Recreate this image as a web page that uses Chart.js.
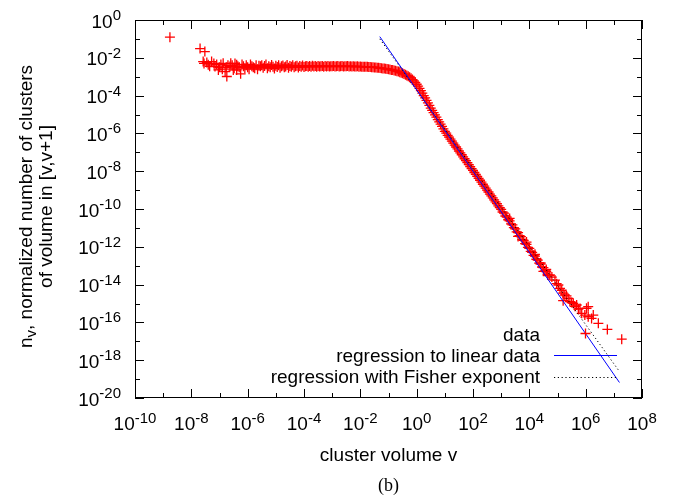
<!DOCTYPE html>
<html>
<head>
<meta charset="utf-8">
<script src="https://cdn.jsdelivr.net/npm/chart.js@4.4.1/dist/chart.umd.min.js"></script>
<style>
  html, body { margin: 0; padding: 0; background: #fff; }
  #wrap { width: 674px; height: 498px; }
</style>
</head>
<body>
<div id="wrap"><canvas id="chart" width="674" height="498"></canvas></div>
<script>
// all values are log10 of cluster volume v and of n_v

// small volumes: first isolated points and the noisy start of the plateau
const headVolume = [
  -8.76, -7.69, -7.52,
  -7.58, -7.55, -7.45, -7.40, -7.35, -7.28, -7.20, -7.16, -7.10, -7.04, -7.00, -6.95,
  -6.90, -6.87, -6.80, -6.76, -6.74, -6.70, -6.63, -6.60, -6.55, -6.51, -6.48, -6.45,
  -6.39, -6.39, -6.35, -6.30, -6.25, -6.20, -6.15, -6.10, -6.05, -6.00, -5.95, -5.90,
  -5.85, -5.80, -5.75, -5.70, -5.65, -5.60, -5.55
];
const headCount = [
  -0.91, -1.51, -1.67,
  -2.20, -2.30, -2.25, -2.37, -2.45, -2.20, -2.30, -2.46, -2.35, -2.64, -2.50, -2.35,
  -2.60, -2.29, -2.73, -2.50, -2.99, -2.40, -2.46, -2.29, -2.40, -2.64, -2.55, -2.30,
  -2.37, -2.64, -2.45, -2.50, -2.85, -2.35, -2.45, -2.55, -2.40, -2.50, -2.60, -2.35,
  -2.45, -2.50, -2.55, -2.40, -2.60, -2.42, -2.45
];

// plateau and the bend down to the power law
const plateauVolume = [
  -5.50, -5.45, -5.40, -5.35, -5.30, -5.25, -5.20, -5.15, -5.10, -5.05, -5.00, -4.95,
  -4.90, -4.85, -4.80, -4.75, -4.70, -4.65, -4.60, -4.55, -4.50, -4.45, -4.40, -4.35,
  -4.30, -4.25, -4.20, -4.15, -4.10, -4.05, -4.00, -3.95, -3.90, -3.85, -3.80, -3.75,
  -3.70, -3.65, -3.60, -3.55, -3.50, -3.45, -3.40, -3.35, -3.30, -3.25, -3.20, -3.15,
  -3.10, -3.05, -3.00, -2.95, -2.90, -2.85, -2.80, -2.75, -2.70, -2.65, -2.60, -2.55,
  -2.50, -2.45, -2.40, -2.35, -2.30, -2.25, -2.20, -2.15, -2.10, -2.05, -2.00, -1.95,
  -1.90, -1.85, -1.80, -1.75, -1.70, -1.65, -1.60, -1.55, -1.50, -1.45, -1.40, -1.35,
  -1.30, -1.25, -1.20, -1.15, -1.10, -1.05, -1.00, -0.95, -0.90, -0.85, -0.80, -0.75,
  -0.70, -0.65, -0.60, -0.55, -0.50, -0.45, -0.40, -0.35, -0.30, -0.25, -0.20, -0.15,
  -0.10, -0.05, 0.00, 0.05, 0.10, 0.15, 0.20, 0.25, 0.30, 0.35, 0.40, 0.45,
  0.50, 0.55, 0.60, 0.65, 0.70, 0.75, 0.80, 0.85, 0.90, 0.95
];
const plateauCount = [
  -2.40, -2.52, -2.44, -2.36, -2.55, -2.45, -2.50, -2.38, -2.47, -2.56, -2.42, -2.49,
  -2.39, -2.53, -2.45, -2.41, -2.50, -2.46, -2.38, -2.52, -2.44, -2.48, -2.40, -2.50,
  -2.45, -2.42, -2.51, -2.44, -2.47, -2.41, -2.49, -2.45, -2.43, -2.48, -2.44, -2.47,
  -2.42, -2.46, -2.44, -2.48, -2.43, -2.46, -2.45, -2.43, -2.47, -2.44, -2.46, -2.44,
  -2.46, -2.45, -2.45, -2.44, -2.46, -2.45, -2.44, -2.46, -2.45, -2.44, -2.46, -2.45,
  -2.45, -2.44, -2.46, -2.45, -2.46, -2.45, -2.46, -2.46, -2.45, -2.47, -2.46, -2.47,
  -2.47, -2.48, -2.47, -2.48, -2.49, -2.49, -2.50, -2.50, -2.51, -2.51, -2.52, -2.53,
  -2.54, -2.55, -2.56, -2.57, -2.58, -2.59, -2.61, -2.62, -2.64, -2.65, -2.67, -2.69,
  -2.71, -2.73, -2.76, -2.79, -2.82, -2.86, -2.90, -2.94, -2.98, -3.03, -3.08, -3.15,
  -3.22, -3.30, -3.40, -3.50, -3.62, -3.74, -3.87, -4.00, -4.12, -4.25, -4.38, -4.52,
  -4.66, -4.78, -4.90, -5.02, -5.14, -5.27, -5.39, -5.51, -5.63, -5.76
];

// straight power-law part
const slopeVolume = [
  1.00, 1.05, 1.10, 1.15, 1.20, 1.25, 1.30, 1.35, 1.40, 1.45, 1.50, 1.55,
  1.60, 1.65, 1.70, 1.75, 1.80, 1.85, 1.90, 1.95, 2.00, 2.05, 2.10, 2.15,
  2.20, 2.25, 2.30, 2.35, 2.40, 2.45, 2.50, 2.55, 2.60, 2.65, 2.70, 2.75,
  2.80, 2.85, 2.90, 2.95, 3.00, 3.05, 3.10, 3.15, 3.20, 3.25, 3.30, 3.35,
  3.40, 3.45, 3.50, 3.55, 3.60, 3.65, 3.70, 3.75, 3.80, 3.85, 3.90, 3.95,
  4.00, 4.05, 4.10, 4.15, 4.20, 4.25, 4.30, 4.35, 4.40, 4.45, 4.50, 4.55,
  4.60, 4.65, 4.70,
  3.30, 3.60, 3.90, 4.20, 4.40, 4.60, 4.50
];
const slopeCount = [
  -5.89, -5.99, -6.10, -6.20, -6.30, -6.41, -6.51, -6.62, -6.72, -6.82, -6.93, -7.03,
  -7.13, -7.24, -7.34, -7.44, -7.55, -7.65, -7.76, -7.86, -7.96, -8.07, -8.17, -8.27,
  -8.38, -8.48, -8.58, -8.69, -8.79, -8.90, -9.00, -9.10, -9.21, -9.31, -9.41, -9.52,
  -9.62, -9.72, -9.83, -9.93, -10.02, -10.16, -10.22, -10.37, -10.43, -10.57, -10.63, -10.79,
  -10.84, -10.99, -11.05, -11.21, -11.25, -11.41, -11.46, -11.62, -11.66, -11.83, -11.87, -12.03,
  -12.08, -12.24, -12.29, -12.45, -12.49, -12.66, -12.70, -12.86, -12.91, -13.07, -13.10, -13.28,
  -13.31, -13.49, -13.52,
  -10.50, -11.45, -11.75, -12.40, -12.85, -13.20, -13.30
];

// sparse tail at large volumes
const tailVolume = [
  4.73, 4.80, 4.91, 4.97, 5.03, 5.09, 5.15, 5.20, 5.26, 5.32, 5.38, 5.44, 5.50, 5.56,
  5.62, 5.68, 5.74, 5.80, 5.86, 5.97, 6.03, 6.09, 6.09, 6.21, 6.27, 6.45, 6.77, 7.28,
  5.20
];
const tailCount = [
  -13.49, -13.60, -13.76, -13.95, -14.02, -14.20, -14.30, -14.45, -14.55, -14.60, -14.73, -14.90, -14.95, -14.99,
  -15.15, -15.08, -15.30, -15.26, -15.52, -15.61, -15.25, -15.70, -15.17, -15.79, -15.61, -16.05, -16.37, -16.89,
  -14.85
];

// end points of the two fitted lines
const linearFitX = [-1.31, 7.20];
const linearFitY = [-0.88, -19.18];
const fisherFitX = [-1.31, 7.20];
const fisherFitY = [-1.00, -18.60];

const xTickExps = [-10, -9, -8, -7, -6, -5, -4, -3, -2, -1, 0, 1, 2, 3, 4, 5, 6, 7, 8];
const yTickExps = [0, -1, -2, -3, -4, -5, -6, -7, -8, -9, -10, -11, -12, -13, -14, -15, -16, -17, -18, -19, -20];

const legendLabels = ["data", "regression to linear data", "regression with Fisher exponent"];

const FONT = '"Liberation Sans", Arial, Helvetica, sans-serif';

const toPoints = (xs, ys) => xs.map((e, i) => ({ x: Math.pow(10, e), y: Math.pow(10, ys[i]) }));

function drawPower(ctx, exp, x, y, align) {
  ctx.font = "19px " + FONT;
  const wb = ctx.measureText("10").width;
  ctx.font = "15px " + FONT;
  const ws = ctx.measureText(String(exp)).width;
  const x0 = align === "right" ? x - wb - ws : x - (wb + ws) / 2;
  ctx.textAlign = "left";
  ctx.textBaseline = "alphabetic";
  ctx.font = "19px " + FONT;
  ctx.fillText("10", x0, y);
  ctx.font = "15px " + FONT;
  ctx.fillText(String(exp), x0 + wb, y - 7.5);
}

const gnuplotFrame = {
  id: "gnuplotFrame",
  afterDraw(chart) {
    const { ctx, chartArea: a, scales } = chart;
    ctx.save();
    ctx.strokeStyle = "#000";
    ctx.fillStyle = "#000";
    ctx.lineWidth = 1;
    ctx.strokeRect(a.left + 0.5, a.top + 0.5, a.right - a.left - 1, a.bottom - a.top - 1);

    // ticks pointing inwards on all four sides
    ctx.beginPath();
    xTickExps.forEach((e) => {
      const px = Math.round(scales.x.getPixelForValue(Math.pow(10, e))) + 0.5;
      const len = e % 2 === 0 ? 9 : 5;
      ctx.moveTo(px, a.bottom);
      ctx.lineTo(px, a.bottom - len);
      ctx.moveTo(px, a.top);
      ctx.lineTo(px, a.top + len);
    });
    yTickExps.forEach((e) => {
      const py = Math.round(scales.y.getPixelForValue(Math.pow(10, e))) + 0.5;
      const len = e % 2 === 0 ? 9 : 5;
      ctx.moveTo(a.left, py);
      ctx.lineTo(a.left + len, py);
      ctx.moveTo(a.right, py);
      ctx.lineTo(a.right - len, py);
    });
    ctx.stroke();

    xTickExps.filter((e) => e % 2 === 0).forEach((e) => {
      drawPower(ctx, e, scales.x.getPixelForValue(Math.pow(10, e)), 430, "center");
    });
    yTickExps.filter((e) => e % 2 === 0).forEach((e) => {
      drawPower(ctx, e, 121, scales.y.getPixelForValue(Math.pow(10, e)) + 7.5, "right");
    });

    // axis titles
    const midX = (a.left + a.right) / 2;
    ctx.textBaseline = "alphabetic";
    ctx.textAlign = "center";
    ctx.font = "19px " + FONT;
    ctx.fillText("cluster volume v", midX, 461);
    ctx.font = '18px "Liberation Serif", "DejaVu Serif", serif';
    ctx.fillText("(b)", midX, 491);

    ctx.save();
    ctx.translate(0, 206.5);
    ctx.rotate(-Math.PI / 2);
    ctx.textAlign = "left";
    ctx.font = "19px " + FONT;
    const rest = ", normalized number of clusters";
    const wn = ctx.measureText("n").width;
    const wr = ctx.measureText(rest).width;
    ctx.font = "15px " + FONT;
    const wv = ctx.measureText("v").width;
    const u = -(wn + wv + wr) / 2;
    ctx.font = "19px " + FONT;
    ctx.fillText("n", u, 31.5);
    ctx.font = "15px " + FONT;
    ctx.fillText("v", u + wn, 35.5);
    ctx.font = "19px " + FONT;
    ctx.fillText(rest, u + wn + wv, 31.5);
    ctx.textAlign = "center";
    ctx.fillText("of volume in [v,v+1]", 0, 51.5);
    ctx.restore();

    // key in the lower right corner
    ctx.font = "19px " + FONT;
    ctx.textAlign = "right";
    const rows = [340.7, 362, 383.3];
    legendLabels.forEach((t, i) => ctx.fillText(t, 540, rows[i]));

    ctx.strokeStyle = "#ff0000";
    ctx.lineWidth = 1.3;
    ctx.beginPath();
    ctx.moveTo(580.5, 333.5);
    ctx.lineTo(590.5, 333.5);
    ctx.moveTo(585.5, 328.5);
    ctx.lineTo(585.5, 338.5);
    ctx.stroke();

    ctx.lineWidth = 1;
    ctx.strokeStyle = "#0000ff";
    ctx.beginPath();
    ctx.moveTo(554, 355.5);
    ctx.lineTo(617, 355.5);
    ctx.stroke();

    ctx.strokeStyle = "#000";
    ctx.setLineDash([1.2, 2.6]);
    ctx.beginPath();
    ctx.moveTo(554, 377.5);
    ctx.lineTo(617, 377.5);
    ctx.stroke();
    ctx.restore();
  },
};

const chart = new Chart(document.getElementById("chart"), {
  type: "scatter",
  data: {
    datasets: [
      {
        label: legendLabels[1],
        data: toPoints(linearFitX, linearFitY),
        showLine: true,
        borderColor: "#0000ff",
        borderWidth: 1,
        pointRadius: 0,
      },
      {
        label: legendLabels[2],
        data: toPoints(fisherFitX, fisherFitY),
        showLine: true,
        borderColor: "#000000",
        borderWidth: 1,
        borderDash: [1.2, 2.6],
        pointRadius: 0,
      },
      {
        label: legendLabels[0],
        data: [
          ...toPoints(headVolume, headCount),
          ...toPoints(plateauVolume, plateauCount),
          ...toPoints(slopeVolume, slopeCount),
          ...toPoints(tailVolume, tailCount),
        ],
        pointStyle: "cross",
        pointRadius: 5,
        pointBorderWidth: 1.3,
        borderColor: "#ff0000",
        backgroundColor: "#ff0000",
      },
    ],
  },
  options: {
    responsive: false,
    animation: false,
    events: [],
    layout: { padding: { left: 135, top: 20, right: 32, bottom: 100 } },
    plugins: {
      legend: { display: false },
      tooltip: { enabled: false },
    },
    scales: {
      x: { type: "logarithmic", min: 1e-10, max: 1e8, display: false },
      y: { type: "logarithmic", min: 1e-20, max: 1, display: false },
    },
  },
  plugins: [gnuplotFrame],
});
</script>
</body>
</html>
